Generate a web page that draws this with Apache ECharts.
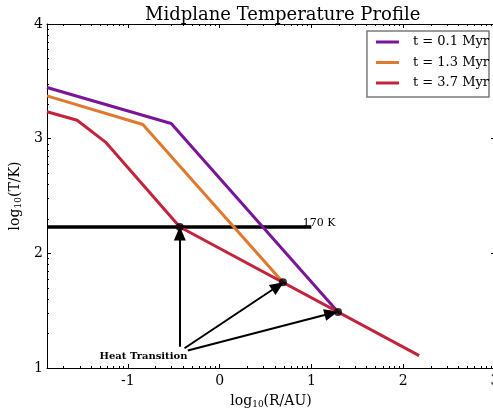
<!DOCTYPE html>
<html>
<head>
<meta charset="utf-8">
<script src="https://cdn.jsdelivr.net/npm/echarts@6/dist/echarts.min.js"></script>
<style>html,body{margin:0;padding:0;background:#fff}#c{width:493px;height:409px}</style>
</head>
<body>
<div id="c"></div>
<script>
// ---- data ----
var xRange = [-1.88, 3];
var yRange = [1, 4];
var xMajorTicks = [-1, 0, 1, 2, 3];
var yMajorTicks = [1, 2, 3, 4];

var seriesNames = ['t = 0.1 Myr', 't = 1.3 Myr', 't = 3.7 Myr'];
var purpleX = [-1.88, -0.527, 1.29];
var purpleY = [3.446, 3.132, 1.488];
var orangeX = [-1.88, -0.836, 0.69];
var orangeY = [3.373, 3.124, 1.747];
var redX = [-1.88, -1.552, -1.243, -0.433, 2.174];
var redY = [3.235, 3.161, 2.970, 2.230, 1.108];

var iceLineX = [-1.88, 1.0];
var iceLineY = [2.2304, 2.2304];   // log10(170 K)
var iceLabel = '170 K';
var iceLabelPos = [0.905, 2.262];

var transX = [-0.433, 0.69, 1.29];
var transY = [2.2304, 1.747, 1.488];

var arrowStartX = [-0.433, -0.382, -0.346];
var arrowStartY = [1.186, 1.172, 1.152];
var arrowEndX = [-0.433, 0.636, 1.218];
var arrowEndY = [2.174, 1.715, 1.477];
var noteText = 'Heat Transition';
var notePos = [-0.829, 1.105];

var colors = ['#7b1597', '#e0782e', '#c2243c'];

// ---- helpers ----
function pts(xs, ys) { return xs.map(function (x, i) { return [x, ys[i]]; }); }
function minorTicks(lo, hi) {
  var out = [];
  for (var n = Math.floor(lo) - 1; n <= Math.ceil(hi); n++) {
    for (var k = 2; k <= 9; k++) {
      var v = n + Math.log10(k);
      if (v > lo && v < hi) out.push(v);
    }
  }
  return out;
}
var xMinor = minorTicks(xRange[0], xRange[1]);
var yMinor = minorTicks(yRange[0], yRange[1]);

var FONT = 'DejaVu Serif';

function xAxisDef(pos, ticks, len, labels, line, extra) {
  var a = {
    type: 'value', position: pos, min: xRange[0], max: xRange[1],
    splitLine: { show: false },
    axisLine: { show: line, onZero: false, lineStyle: { color: '#000', width: 1 } },
    axisTick: { show: true, inside: true, length: len, customValues: ticks, lineStyle: { color: '#000', width: 1 } },
    axisLabel: labels ? { show: true, customValues: ticks, margin: 6, color: '#000', fontFamily: FONT, fontSize: 14 } : { show: false }
  };
  if (extra) for (var k in extra) a[k] = extra[k];
  return a;
}
function yAxisDef(pos, ticks, len, labels, line, extra) {
  var a = {
    type: 'value', position: pos, min: yRange[0], max: yRange[1],
    splitLine: { show: false },
    axisLine: { show: line, onZero: false, lineStyle: { color: '#000', width: 1 } },
    axisTick: { show: true, inside: true, length: len, customValues: ticks, lineStyle: { color: '#000', width: 1 } },
    axisLabel: labels ? { show: true, customValues: ticks, margin: 4, color: '#000', fontFamily: FONT, fontSize: 14 } : { show: false }
  };
  if (extra) for (var k in extra) a[k] = extra[k];
  return a;
}

var chart = echarts.init(document.getElementById('c'), null, { renderer: 'canvas' });

var option = {
  animation: false,
  backgroundColor: '#fff',
  title: {
    text: 'Midplane Temperature Profile',
    left: 140, top: 1,
    textStyle: { fontFamily: FONT, fontWeight: 'normal', fontSize: 18, color: '#000' }
  },
  legend: {
    data: seriesNames,
    orient: 'vertical',
    right: 4, top: 31,
    icon: 'rect',
    itemWidth: 23, itemHeight: 3, itemGap: 6.5,
    padding: [4, 0, 7, 9],
    borderColor: '#7a7a7a', borderWidth: 1.5,
    backgroundColor: '#fff',
    textStyle: { fontFamily: FONT, fontSize: 13, lineHeight: 14, color: '#000', padding: [0, 0, 0, 9] }
  },
  grid: { left: 47, right: -2, top: 24, bottom: 41, containLabel: false, outerBoundsMode: 'none' },
  xAxis: [
    xAxisDef('bottom', xMajorTicks, 4, true, true, {
      name: 'log{s|10}(R/AU)', nameLocation: 'middle', nameGap: 26,
      nameTextStyle: { fontFamily: FONT, fontSize: 14, color: '#000',
        rich: { s: { fontFamily: FONT, fontSize: 9, color: '#000', padding: [6, 0, 0, 0] } } }
    }),
    xAxisDef('bottom', xMinor, 2, false, false),
    xAxisDef('top', xMajorTicks, 4, false, true),
    xAxisDef('top', xMinor, 2, false, false)
  ],
  yAxis: [
    yAxisDef('left', yMajorTicks, 4, true, true, {
      name: 'log{s|10}(T/K)', nameLocation: 'middle', nameGap: 21,
      nameTextStyle: { fontFamily: FONT, fontSize: 14, color: '#000',
        rich: { s: { fontFamily: FONT, fontSize: 9, color: '#000', padding: [6, 0, 0, 0] } } }
    }),
    yAxisDef('left', yMinor, 2, false, false),
    yAxisDef('right', yMajorTicks, 4, false, true),
    yAxisDef('right', yMinor, 2, false, false)
  ],
  series: [
    {
      name: iceLabel, type: 'line', data: pts(iceLineX, iceLineY),
      showSymbol: false, symbol: 'none', z: 2,
      lineStyle: { color: '#000', width: 3.5 }, itemStyle: { color: '#000' }
    },
    {
      name: seriesNames[0], type: 'line', data: pts(purpleX, purpleY),
      symbol: 'none', z: 3, color: colors[0],
      lineStyle: { color: colors[0], width: 3 }
    },
    {
      name: seriesNames[1], type: 'line', data: pts(orangeX, orangeY),
      symbol: 'none', z: 4, color: colors[1],
      lineStyle: { color: colors[1], width: 3 }
    },
    {
      name: seriesNames[2], type: 'line', data: pts(redX, redY),
      symbol: 'none', z: 5, color: colors[2],
      lineStyle: { color: colors[2], width: 3 }
    },
    {
      name: 'transitions', type: 'scatter', data: pts(transX, transY),
      symbol: 'circle', symbolSize: 8, z: 6,
      itemStyle: { color: '#000' },
      markLine: {
        silent: true, animation: false,
        symbol: ['none', 'triangle'], symbolSize: [12, 14],
        label: { show: false },
        lineStyle: { color: '#000', width: 2, type: 'solid' },
        data: arrowStartX.map(function (x, i) {
          return [{ coord: [x, arrowStartY[i]] }, { coord: [arrowEndX[i], arrowEndY[i]] }];
        })
      },
      markPoint: {
        silent: true, animation: false,
        symbol: 'circle', symbolSize: 0,
        data: [
          { coord: notePos, label: { show: true, position: 'inside', formatter: noteText,
              color: '#000', fontFamily: FONT, fontWeight: 'bold', fontSize: 10 } },
          { coord: iceLabelPos, label: { show: true, position: 'right', distance: 0, formatter: iceLabel,
              color: '#000', fontFamily: FONT, fontSize: 11 } }
        ]
      }
    }
  ]
};
chart.setOption(option);
</script>
</body>
</html>
